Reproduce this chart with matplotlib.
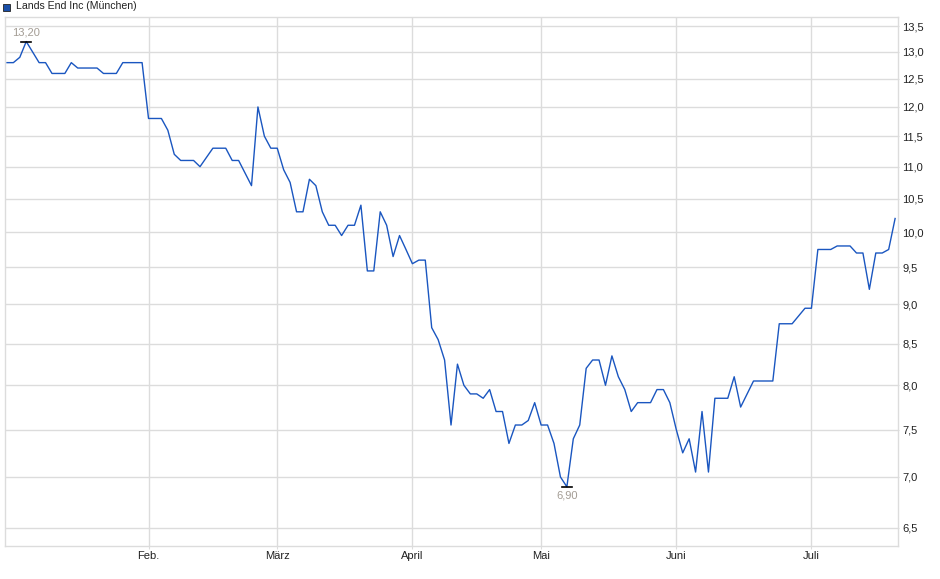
import numpy as np
import matplotlib.pyplot as plt
from matplotlib.ticker import FixedLocator, FixedFormatter, NullLocator

# Schlusskurse (Handelstage Januar bis Juli)
prices = [
    12.80, 12.80, 12.90, 13.20, 13.00, 12.80, 12.80, 12.60, 12.60, 12.60,
    12.80, 12.70, 12.70, 12.70, 12.70, 12.60, 12.60, 12.60, 12.80, 12.80,
    12.80, 12.80, 11.80, 11.80, 11.80, 11.60, 11.20, 11.10, 11.10, 11.10,
    11.00, 11.15, 11.30, 11.30, 11.30, 11.10, 11.10, 10.90, 10.70, 12.00,
    11.50, 11.30, 11.30, 10.95, 10.75, 10.30, 10.30, 10.80, 10.70, 10.30,
    10.10, 10.10, 9.95, 10.10, 10.10, 10.40, 9.45, 9.45, 10.30, 10.10,
    9.65, 9.95, 9.75, 9.55, 9.60, 9.60, 8.70, 8.55, 8.30, 7.55,
    8.25, 8.00, 7.90, 7.90, 7.85, 7.95, 7.70, 7.70, 7.35, 7.55,
    7.55, 7.60, 7.80, 7.55, 7.55, 7.35, 7.00, 6.90, 7.40, 7.55,
    8.20, 8.30, 8.30, 8.00, 8.35, 8.10, 7.95, 7.70, 7.80, 7.80,
    7.80, 7.95, 7.95, 7.80, 7.50, 7.25, 7.40, 7.05, 7.70, 7.05,
    7.85, 7.85, 7.85, 8.10, 7.75, 7.90, 8.05, 8.05, 8.05, 8.05,
    8.75, 8.75, 8.75, 8.85, 8.95, 8.95, 9.75, 9.75, 9.75, 9.80,
    9.80, 9.80, 9.70, 9.70, 9.20, 9.70, 9.70, 9.75, 10.20,
]
month_pos = [22, 42, 63, 83, 104, 125]
month_labels = ["Feb.", "März", "April", "Mai", "Juni", "Juli"]
y_ticks = [6.5, 7.0, 7.5, 8.0, 8.5, 9.0, 9.5, 10.0, 10.5, 11.0, 11.5, 12.0, 12.5, 13.0, 13.5]

plt.rcParams['font.family'] = ['Liberation Sans', 'DejaVu Sans']

x = np.arange(len(prices))
grid_col = '#dcdcdc'

fig = plt.figure(figsize=(9.4, 5.79), dpi=100)
ax = fig.add_axes([5 / 940, (579 - 546) / 579, 893 / 940, 529 / 579])

ax.plot(x, prices, color='#1a56c0', lw=1.0)

ax.set_yscale('log')
ax.set_ylim(6.33, 13.68)
ax.set_xlim(-0.3, 138.45)

ax.yaxis.set_major_locator(FixedLocator(y_ticks))
ax.yaxis.set_major_formatter(FixedFormatter([f"{v:.1f}".replace('.', ',') for v in y_ticks]))
ax.yaxis.set_minor_locator(NullLocator())
ax.yaxis.tick_right()
ax.set_xticks(month_pos)
ax.set_xticklabels(month_labels)
ax.tick_params(axis='both', labelsize=8, colors='#222222', width=0.8)
ax.tick_params(axis='x', color=grid_col, length=2, pad=1.5)
ax.tick_params(axis='y', color=grid_col, length=1, pad=2)

ax.grid(True, color=grid_col, lw=1.0)
ax.set_axisbelow(True)
for s in ax.spines.values():
    s.set_color(grid_col)
    s.set_linewidth(1.0)

# Hoch / Tief markieren
i_max = int(np.argmax(prices))
i_min = int(np.argmin(prices))
for i, off, va in [(i_max, 3, 'bottom'), (i_min, -3, 'top')]:
    ax.plot([i - 0.75, i + 0.75], [prices[i], prices[i]], color='black', lw=1.2)
    ax.annotate(f"{prices[i]:.2f}".replace('.', ','), (i, prices[i]),
                xytext=(0, off), textcoords='offset points',
                ha='center', va=va, fontsize=8, color='#a39c94')

# Legende / Titel oben links
fig.patches.append(plt.Rectangle((3 / 940, 1 - 11 / 579), 7 / 940, 7 / 579,
                                 transform=fig.transFigure, facecolor='#1a4fa8',
                                 edgecolor='#222222', lw=0.6))
fig.text(16 / 940, 1 - 6 / 579, "Lands End Inc (München)", fontsize=7.6,
         color='#222222', va='center', ha='left')

fig.savefig('out.png', dpi=100)
